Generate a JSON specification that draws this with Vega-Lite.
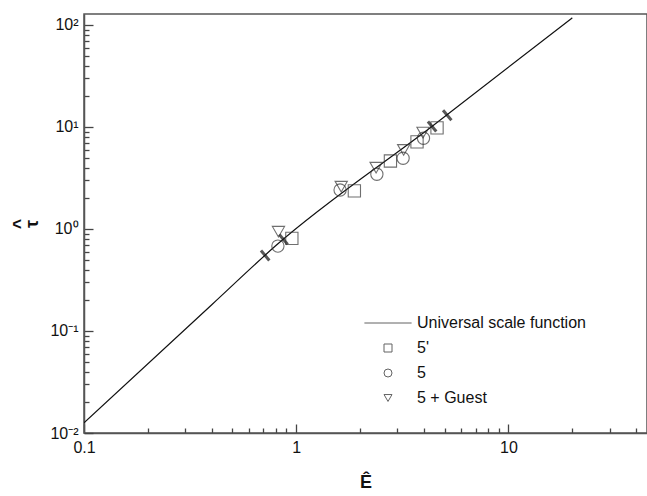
{
  "$schema": "https://vega.github.io/schema/vega-lite/v6.json",
  "width": 563,
  "height": 419,
  "autosize": {"type": "none"},
  "padding": {"left": 84, "top": 14, "right": 0, "bottom": 63},
  "background": "white",
  "config": {
    "view": {"stroke": "#555", "strokeWidth": 1.5},
    "font": "Liberation Sans",
    "axis": {
      "grid": false,
      "domainColor": "#555",
      "domainWidth": 1.5,
      "tickColor": "#444",
      "tickWidth": 1.3,
      "labelFont": "Liberation Sans",
      "labelFontSize": 16,
      "labelColor": "#111",
      "titleFont": "Liberation Sans",
      "titleFontSize": 18,
      "titleFontWeight": "bold",
      "titleColor": "#111",
      "labelOverlap": false,
      "labelFlush": false
    }
  },
  "datasets": {
    "curve": [
      {"E": 0.1, "tau": 0.0126},
      {"E": 0.4, "tau": 0.181},
      {"E": 0.8, "tau": 0.684},
      {"E": 4.39, "tau": 10.2},
      {"E": 20, "tau": 117.5}
    ],
    "marks": [
      {"E": 0.714, "tau": 0.55},
      {"E": 0.871, "tau": 0.79},
      {"E": 4.37, "tau": 10.1},
      {"E": 5.15, "tau": 13.0}
    ],
    "points": [
      {"E": 0.825, "tau": 0.94, "series": "5 + Guest"},
      {"E": 1.63, "tau": 2.6, "series": "5 + Guest"},
      {"E": 2.38, "tau": 3.99, "series": "5 + Guest"},
      {"E": 3.21, "tau": 5.96, "series": "5 + Guest"},
      {"E": 3.96, "tau": 8.8, "series": "5 + Guest"},
      {"E": 0.82, "tau": 0.68, "series": "5"},
      {"E": 1.61, "tau": 2.41, "series": "5"},
      {"E": 2.4, "tau": 3.44, "series": "5"},
      {"E": 3.19, "tau": 4.93, "series": "5"},
      {"E": 3.98, "tau": 7.75, "series": "5"},
      {"E": 0.954, "tau": 0.81, "series": "5'"},
      {"E": 1.88, "tau": 2.36, "series": "5'"},
      {"E": 2.78, "tau": 4.64, "series": "5'"},
      {"E": 3.71, "tau": 7.15, "series": "5'"},
      {"E": 4.61, "tau": 9.8, "series": "5'"}
    ]
  },
  "encoding": {
    "x": {
      "field": "E",
      "type": "quantitative",
      "scale": {"type": "log", "domain": [0.1, 45], "nice": false},
      "axis": {
        "title": "Ê",
        "titlePadding": 14,
        "values": [0.1, 0.2, 0.3, 0.4, 0.5, 0.6, 0.7, 0.8, 0.9, 1, 2, 3, 4, 5, 6, 7, 8, 9, 10, 20, 30, 40],
        "labelExpr": "datum.value == 0.1 ? '0.1' : datum.value == 1 ? '1' : datum.value == 10 ? '10' : ''",
        "tickSize": {"condition": {"test": "datum.value == 0.1 || datum.value == 1 || datum.value == 10", "value": -9}, "value": -5},
        "labelPadding": 15
      }
    },
    "y": {
      "field": "tau",
      "type": "quantitative",
      "scale": {"type": "log", "domain": [0.01, 128], "nice": false},
      "axis": {
        "title": ["^", "τ"],
        "titleLineHeight": 12,
        "titlePadding": 8,
        "values": [0.01, 0.02, 0.03, 0.04, 0.05, 0.06, 0.07, 0.08, 0.09, 0.1, 0.2, 0.3, 0.4, 0.5, 0.6, 0.7, 0.8, 0.9, 1, 2, 3, 4, 5, 6, 7, 8, 9, 10, 20, 30, 40, 50, 60, 70, 80, 90, 100],
        "labelExpr": "datum.value == 100 ? '10²' : datum.value == 10 ? '10¹' : datum.value == 1 ? '10⁰' : datum.value == 0.1 ? '10⁻¹' : datum.value == 0.01 ? '10⁻²' : ''",
        "tickSize": {"condition": {"test": "datum.value == 0.01 || datum.value == 0.1 || datum.value == 1 || datum.value == 10 || datum.value == 100", "value": -9}, "value": -5},
        "labelPadding": 15
      }
    }
  },
  "layer": [
    {
      "data": {"name": "curve"},
      "mark": {"type": "line", "color": "#111", "strokeWidth": 1.2, "clip": true, "interpolate": "monotone"}
    },
    {
      "data": {"name": "marks"},
      "mark": {"type": "point", "shape": "stroke", "angle": 50, "size": 170, "strokeWidth": 3, "color": "#111"}
    },
    {
      "data": {"name": "points"},
      "mark": {"type": "point", "filled": false, "size": 150, "strokeWidth": 1.1, "color": "#333"},
      "encoding": {
        "shape": {
          "field": "series",
          "type": "nominal",
          "scale": {
            "domain": ["Universal scale function", "5'", "5", "5 + Guest"],
            "range": ["M-5.9,0L5.9,0", "square", "circle", "triangle-down"]
          },
          "legend": {
            "title": null,
            "orient": "none",
            "legendX": 296,
            "legendY": 301,
            "padding": 0,
            "symbolSize": 64,
            "symbolStrokeWidth": 1,
            "symbolStrokeColor": "#222",
            "labelFont": "Liberation Sans",
            "labelFontSize": 16,
            "labelColor": "#111",
            "labelOffset": 21,
            "labelLimit": 0,
            "rowPadding": 9
          }
        }
      }
    }
  ]
}
